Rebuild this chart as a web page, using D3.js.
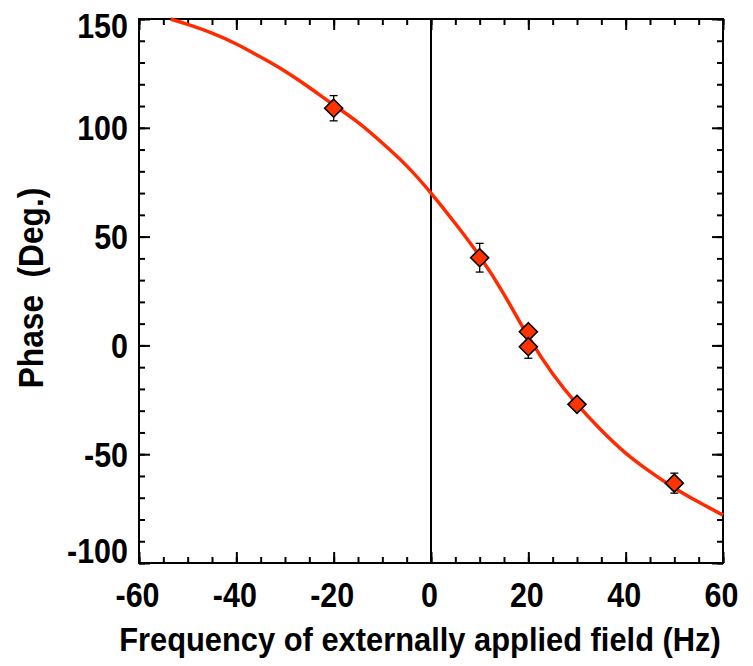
<!DOCTYPE html>
<html>
<head>
<meta charset="utf-8">
<script src="https://cdn.jsdelivr.net/npm/d3@7"></script>
<style>
  body { margin: 0; background: #fff; }
  text { font-family: "Liberation Sans", Arial, sans-serif; font-weight: bold; fill: #000; }
</style>
</head>
<body>
<div id="chart"></div>
<script>
// measured points (frequency Hz, phase deg, error)
var freq  = [-20, 10, 20, 20, 30, 50];
var phase = [109, 40.3, 6.3, -0.6, -27.1, -63.3];
var err   = [5.8, 6.6, 2.5, 5.3, 2.5, 4.6];

// fitted curve
var fitX = [-53.5, -50, -45, -40, -35, -30, -25, -20, -15, -10, -5, 0, 5, 10, 15, 20, 25, 30, 35, 40, 45, 50, 55, 60];
var fitY = [150, 147.5, 143.5, 138.5, 132.5, 126, 118.5, 110.5, 102.5, 93, 82.5, 70, 56, 41, 23.5, 4, -13, -27, -39, -49.5, -58, -65.5, -72, -78];

var xTicks = [-60, -40, -20, 0, 20, 40, 60];
var yTicks = [-100, -50, 0, 50, 100, 150];

var W = 753, H = 666;
var mLeft = 139, mRight = 723, mTop = 19, mBottom = 563;
var squeeze = 0.87;

var svg = d3.select('#chart').append('svg')
    .attr('width', W)
    .attr('height', H);

var x = d3.scaleLinear().domain([-60, 60]).range([mLeft, mRight]);
var y = d3.scaleLinear().domain([-100, 150]).range([mBottom, mTop]);

var xMinor = d3.range(-60, 61, 5);
var yMinor = d3.range(-100, 151, 10);

// ticks, pointing inward, on all four sides
function ticks(axisFn, pos, vals, size) {
    svg.append('g')
        .attr('transform', pos)
        .call(axisFn.tickValues(vals).tickSize(size).tickFormat(''))
        .call(function(g) {
            g.select('.domain').remove();
            g.selectAll('line').attr('stroke', '#000').attr('stroke-width', 2);
        });
}
ticks(d3.axisTop(x), 'translate(0,' + mBottom + ')', xMinor, 6);
ticks(d3.axisTop(x), 'translate(0,' + mBottom + ')', xTicks, 11);
ticks(d3.axisBottom(x), 'translate(0,' + mTop + ')', xMinor, 6);
ticks(d3.axisBottom(x), 'translate(0,' + mTop + ')', xTicks, 11);
ticks(d3.axisRight(y), 'translate(' + mLeft + ',0)', yMinor, 6);
ticks(d3.axisRight(y), 'translate(' + mLeft + ',0)', yTicks, 11);
ticks(d3.axisLeft(y), 'translate(' + mRight + ',0)', yMinor, 6);
ticks(d3.axisLeft(y), 'translate(' + mRight + ',0)', yTicks, 11);

// frame
svg.append('rect')
    .attr('x', mLeft).attr('y', mTop)
    .attr('width', mRight - mLeft).attr('height', mBottom - mTop)
    .attr('fill', 'none').attr('stroke', '#000').attr('stroke-width', 2);

// tick labels
svg.selectAll('.xl').data(xTicks).enter().append('text')
    .attr('transform', function(d) { return 'translate(' + (x(d) - 1.5) + ',607) scale(' + squeeze + ',1)'; })
    .attr('text-anchor', 'middle')
    .attr('font-size', 35)
    .text(function(d) { return d; });

// end labels are kept inside the frame height
svg.selectAll('.yl').data(yTicks).enter().append('text')
    .attr('transform', function(d) {
        var b = Math.max(mTop + 19, Math.min(mBottom, y(d) + 12.5));
        return 'translate(' + (mLeft - 11) + ',' + b + ') scale(' + squeeze + ',1)';
    })
    .attr('text-anchor', 'end')
    .attr('font-size', 35)
    .text(function(d) { return d; });

// axis titles
svg.append('text')
    .attr('transform', 'translate(420,651) scale(0.935,1)')
    .attr('text-anchor', 'middle')
    .attr('font-size', 33)
    .text('Frequency of externally applied field (Hz)');

svg.append('text')
    .attr('transform', 'translate(43,288) rotate(-90) scale(0.905,1)')
    .attr('text-anchor', 'middle')
    .attr('font-size', 35)
    .attr('xml:space', 'preserve')
    .text('Phase  (Deg.)');

// zero line
svg.append('line')
    .attr('x1', x(0)).attr('x2', x(0))
    .attr('y1', mTop).attr('y2', mBottom)
    .attr('stroke', '#000').attr('stroke-width', 2);

// fitted curve
var fit = fitX.map(function(d, i) { return [d, fitY[i]]; });
svg.append('path')
    .datum(fit)
    .attr('fill', 'none')
    .attr('stroke', '#ff2a00')
    .attr('stroke-width', 3.5)
    .attr('d', d3.line()
        .x(function(d) { return x(d[0]); })
        .y(function(d) { return y(d[1]); })
        .curve(d3.curveNatural));

// error bars
var pts = freq.map(function(d, i) { return { f: d, p: phase[i], e: err[i] }; });
var eb = svg.selectAll('.eb').data(pts).enter().append('g')
    .attr('stroke', '#000').attr('stroke-width', 1.3);
eb.append('line')
    .attr('x1', function(d) { return x(d.f); }).attr('x2', function(d) { return x(d.f); })
    .attr('y1', function(d) { return y(d.p + d.e); }).attr('y2', function(d) { return y(d.p - d.e); });
eb.append('line')
    .attr('x1', function(d) { return x(d.f) - 4; }).attr('x2', function(d) { return x(d.f) + 4; })
    .attr('y1', function(d) { return y(d.p + d.e); }).attr('y2', function(d) { return y(d.p + d.e); });
eb.append('line')
    .attr('x1', function(d) { return x(d.f) - 4; }).attr('x2', function(d) { return x(d.f) + 4; })
    .attr('y1', function(d) { return y(d.p - d.e); }).attr('y2', function(d) { return y(d.p - d.e); });

// diamonds
svg.selectAll('.pt').data(pts).enter().append('path')
    .attr('d', 'M0,-9L9,0L0,9L-9,0Z')
    .attr('transform', function(d) { return 'translate(' + x(d.f) + ',' + y(d.p) + ')'; })
    .attr('fill', '#ff3300')
    .attr('stroke', '#000')
    .attr('stroke-width', 1.6);
</script>
</body>
</html>
